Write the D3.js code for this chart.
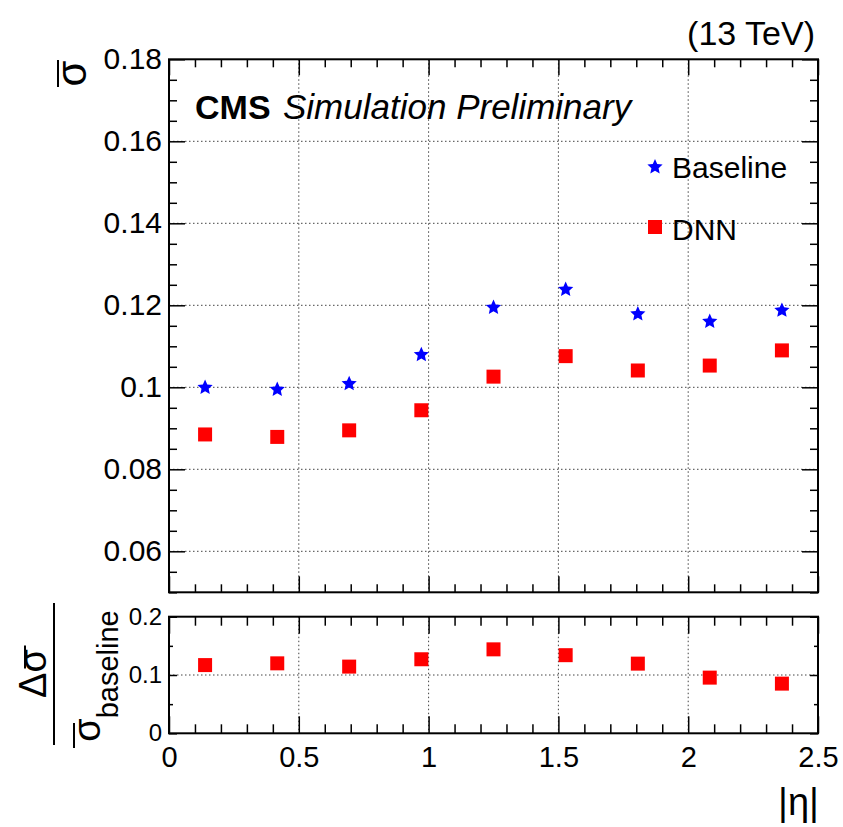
<!DOCTYPE html>
<html>
<head>
<meta charset="utf-8">
<script src="https://cdn.jsdelivr.net/npm/d3@7"></script>
<style>
  html, body { margin: 0; padding: 0; background: #fff; }
  svg { display: block; font-family: "Liberation Sans", Arial, Helvetica, sans-serif; }
</style>
</head>
<body>
<svg id="chart" width="843" height="827"></svg>
<script>
// ---- data ----
const etaCenters = [0.139, 0.417, 0.694, 0.972, 1.25, 1.528, 1.806, 2.083, 2.361];
const baselineValues = [0.1002, 0.0997, 0.1011, 0.1082, 0.1197, 0.1241, 0.1181, 0.1163, 0.1190];
const dnnValues = [0.0885, 0.0879, 0.0895, 0.0944, 0.1026, 0.1076, 0.1041, 0.1053, 0.1090];
const ratioValues = [0.117, 0.120, 0.1144, 0.127, 0.144, 0.134, 0.1195, 0.0955, 0.0852];
const xTickLabels = ["0", "0.5", "1", "1.5", "2", "2.5"];
const yTopTickLabels = ["0.06", "0.08", "0.1", "0.12", "0.14", "0.16", "0.18"];
const yBotTickLabels = ["0", "0.1", "0.2"];
const seriesNames = ["Baseline", "DNN"];

// ---- layout ----
const svg = d3.select("#chart");
const L = 169, R = 818;
const topT = 59.3, topB = 592.3;
const botT = 616.7, botB = 733.3;

const x = d3.scaleLinear().domain([0, 2.5]).range([L, R]);
const yTop = d3.scaleLinear().domain([0.05, 0.18]).range([topB, topT]);
const yBot = d3.scaleLinear().domain([0, 0.2]).range([botB, botT]);

const xMajor = xTickLabels.map(Number);
const xMinor = d3.range(0, 26).map(i => i / 10).filter(v => !xMajor.some(m => Math.abs(m - v) < 1e-9));
const yTopMajor = yTopTickLabels.map(Number);
const yTopMinor = d3.range(10, 37).map(i => i * 0.005).filter(v => !yTopMajor.some(m => Math.abs(m - v) < 1e-9) && v >= 0.05 - 1e-9 && v <= 0.18 + 1e-9);
const yBotMajor = yBotTickLabels.map(Number);
const yBotMinor = [0.05, 0.15];

const gridStyle = sel => sel.attr("stroke", "#444").attr("stroke-width", 1).attr("stroke-dasharray", "1.5,2.5");

function grid(yScale, yMaj, top, bot) {
  const g = svg.append("g");
  g.selectAll(".gv").data(xMajor.filter(v => v > 0 && v < 2.5)).join("line")
    .attr("x1", d => x(d)).attr("x2", d => x(d)).attr("y1", top).attr("y2", bot).call(gridStyle);
  g.selectAll(".gh").data(yMaj.filter(v => yScale(v) > top + 1 && yScale(v) < bot - 1)).join("line")
    .attr("y1", d => yScale(d)).attr("y2", d => yScale(d)).attr("x1", L).attr("x2", R).call(gridStyle);
}
grid(yTop, yTopMajor, topT, topB);
grid(yBot, yBotMajor, botT, botB);

function styleAxis(g, fs) {
  g.select(".domain").remove();
  g.selectAll(".tick line").attr("stroke", "#000").attr("stroke-width", 1.5);
  g.selectAll("text").attr("font-size", fs).attr("fill", "#000").attr("font-family", "Liberation Sans, Arial, sans-serif");
}

function ticksPanel(yScale, top, bot, yMaj, yMin, xMajLen, xMinLen, yMajLen, yMinLen, yLabels, yFs, xLabels) {
  const gb = svg.append("g").attr("transform", `translate(0,${bot})`)
    .call(d3.axisBottom(x).tickValues(xMajor).tickSize(-xMajLen).tickPadding(13)
      .tickFormat((d, i) => xLabels ? xTickLabels[i] : ""));
  styleAxis(gb, 29);
  const gbm = svg.append("g").attr("transform", `translate(0,${bot})`)
    .call(d3.axisBottom(x).tickValues(xMinor).tickSize(-xMinLen).tickFormat(""));
  styleAxis(gbm, 29);
  const gt = svg.append("g").attr("transform", `translate(0,${top})`)
    .call(d3.axisTop(x).tickValues(xMajor).tickSize(-xMajLen).tickFormat(""));
  styleAxis(gt, 29);
  const gtm = svg.append("g").attr("transform", `translate(0,${top})`)
    .call(d3.axisTop(x).tickValues(xMinor).tickSize(-xMinLen).tickFormat(""));
  styleAxis(gtm, 29);
  const gl = svg.append("g").attr("transform", `translate(${L},0)`)
    .call(d3.axisLeft(yScale).tickValues(yMaj).tickSize(-yMajLen).tickPadding(7)
      .tickFormat((d, i) => yLabels[i]));
  styleAxis(gl, yFs);
  const glm = svg.append("g").attr("transform", `translate(${L},0)`)
    .call(d3.axisLeft(yScale).tickValues(yMin).tickSize(-yMinLen).tickFormat(""));
  styleAxis(glm, yFs);
  const gr = svg.append("g").attr("transform", `translate(${R},0)`)
    .call(d3.axisRight(yScale).tickValues(yMaj).tickSize(-yMajLen).tickFormat(""));
  styleAxis(gr, yFs);
  const grm = svg.append("g").attr("transform", `translate(${R},0)`)
    .call(d3.axisRight(yScale).tickValues(yMin).tickSize(-yMinLen).tickFormat(""));
  styleAxis(grm, yFs);
  svg.append("rect").attr("x", L).attr("y", top).attr("width", R - L).attr("height", bot - top)
    .attr("fill", "none").attr("stroke", "#000").attr("stroke-width", 2);
}

ticksPanel(yTop, topT, topB, yTopMajor, yTopMinor, 16, 8, 16, 8, yTopTickLabels, 30, false);
ticksPanel(yBot, botT, botB, yBotMajor, yBotMinor, 17, 9, 8, 4, yBotTickLabels, 24, true);

// ---- markers ----
// ROOT-like filled star (marker 29): chunkier than d3's default star
const rootStar = {
  draw(context, size) {
    const r = Math.sqrt(size) / 2, ri = r * 0.47;
    for (let i = 0; i < 10; ++i) {
      const a = -Math.PI / 2 + i * Math.PI / 5;
      const rr = i % 2 ? ri : r;
      const px = rr * Math.cos(a), py = rr * Math.sin(a);
      if (i === 0) context.moveTo(px, py); else context.lineTo(px, py);
    }
    context.closePath();
  }
};
const star = d3.symbol().type(rootStar).size(256);
const square = d3.symbol().type(d3.symbolSquare).size(196);

svg.append("g").selectAll("path").data(etaCenters).join("path")
  .attr("d", square)
  .attr("transform", (d, i) => `translate(${x(d)},${yTop(dnnValues[i])})`)
  .attr("fill", "#ff0000");
svg.append("g").selectAll("path").data(etaCenters).join("path")
  .attr("d", star)
  .attr("transform", (d, i) => `translate(${x(d)},${yTop(baselineValues[i]) + 1})`)
  .attr("fill", "#0000ff");
svg.append("g").selectAll("path").data(etaCenters).join("path")
  .attr("d", square)
  .attr("transform", (d, i) => `translate(${x(d)},${yBot(ratioValues[i])})`)
  .attr("fill", "#ff0000");

// ---- legend ----
svg.append("path").attr("d", star).attr("transform", "translate(655,167)").attr("fill", "#0000ff");
svg.append("text").attr("x", 672).attr("y", 178).attr("font-size", 30).text(seriesNames[0]);
svg.append("path").attr("d", square).attr("transform", "translate(655,227)").attr("fill", "#ff0000");
svg.append("text").attr("x", 672).attr("y", 240).attr("font-size", 30).text(seriesNames[1]);

// ---- header texts ----
svg.append("text").attr("x", 195).attr("y", 119).attr("font-size", 34).attr("font-weight", "bold").text("CMS");
svg.append("text").attr("x", 283).attr("y", 119).attr("font-size", 35).attr("font-style", "italic").text("Simulation Preliminary");
svg.append("text").attr("x", 815).attr("y", 45).attr("font-size", 34).attr("text-anchor", "end").text("(13 TeV)");

// ---- axis titles ----
const gy1 = svg.append("g").attr("transform", "translate(86,73.5) rotate(-90)");
gy1.append("text").attr("x", 0).attr("y", 0).attr("text-anchor", "middle").attr("font-size", 42).text("σ");
gy1.append("line").attr("x1", -13.5).attr("x2", 13.5).attr("y1", -28).attr("y2", -28).attr("stroke", "#000").attr("stroke-width", 2);

svg.append("line").attr("x1", 54).attr("x2", 54).attr("y1", 603).attr("y2", 745).attr("stroke", "#000").attr("stroke-width", 2);
const gnum = svg.append("g").attr("transform", "translate(46,673.5) rotate(-90)");
gnum.append("text").attr("x", 0).attr("y", 0).attr("text-anchor", "middle").attr("font-size", 38).text("Δσ");
gnum.append("line").attr("x1", 5).attr("x2", 28).attr("y1", -21).attr("y2", -21).attr("stroke", "#000").attr("stroke-width", 2);
const gden = svg.append("g").attr("transform", "translate(100,676) rotate(-90)");
const tden = gden.append("text").attr("x", 0).attr("y", 0).attr("text-anchor", "middle");
tden.append("tspan").attr("font-size", 38).text("σ");
tden.append("tspan").attr("font-size", 29).attr("dy", 18).text("baseline");
gden.append("line").attr("x1", -72).attr("x2", -47).attr("y1", -26).attr("y2", -26).attr("stroke", "#000").attr("stroke-width", 2);

svg.append("text").attr("x", 819).attr("y", 815).attr("text-anchor", "end").attr("font-size", 38).text("|η|");
</script>
</body>
</html>
